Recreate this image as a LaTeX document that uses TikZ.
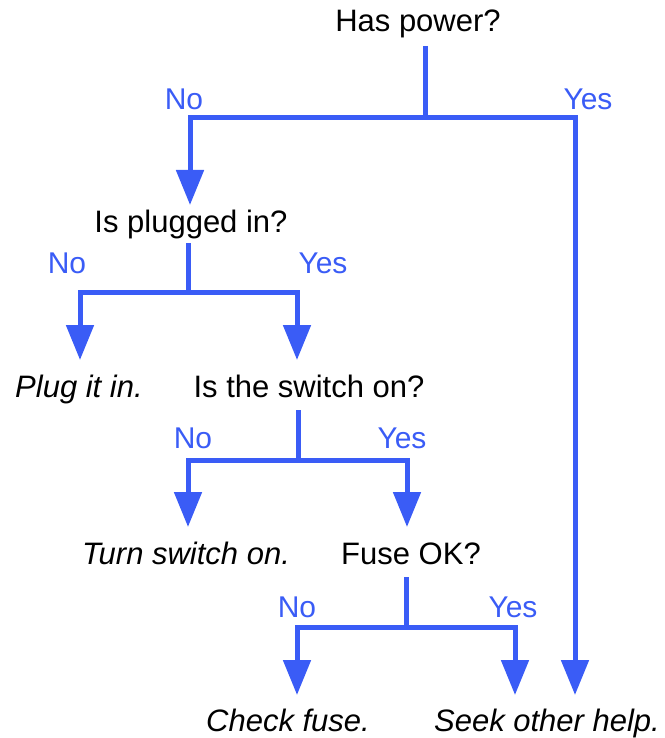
\documentclass[tikz,border=0pt]{standalone}
\usepackage{fontspec}
\setmainfont{Liberation Sans}
\usetikzlibrary{arrows.meta}
\definecolor{flowblue}{RGB}{58,92,246}
\tikzset{
  q/.style={anchor=base, inner sep=0pt, text=black, font=\fontsize{31}{36}\selectfont},
  ans/.style={anchor=base, inner sep=0pt, text=black, font=\fontsize{31}{36}\selectfont\itshape},
  lbl/.style={anchor=base, inner sep=0pt, text=flowblue, font=\fontsize{30}{36}\selectfont},
  conn/.style={draw=flowblue, line width=5pt, line cap=butt, line join=miter},
  arr/.style={conn, -{Triangle[width=27pt,length=35pt]}}
}
\begin{document}
\begin{tikzpicture}[x=1pt,y=-1pt]
\useasboundingbox (0,0) rectangle (664,738);
% texts
\node[q] (hp) at (418,32) {Has power?};
\node[q] (pl) at (191,232) {Is plugged in?};
\node[ans] (pin) at (79,397) {Plug it in.};
\node[q] (sw) at (309,397) {Is the switch on?};
\node[ans] (tso) at (186,564) {Turn switch on.};
\node[q] (fu) at (411,564) {Fuse OK?};
\node[ans] (cf) at (288,731) {Check fuse.};
\node[ans] (so) at (547,731) {Seek other help.};
% labels
\node[lbl] (n1) at (184,110) {No};
\node[lbl] (y1) at (588,110) {Yes};
\node[lbl] (n2) at (67,273) {No};
\node[lbl] (y2) at (323,273) {Yes};
\node[lbl] (n3) at (193,448) {No};
\node[lbl] (y3) at (402,448) {Yes};
\node[lbl] (n4) at (297,617) {No};
\node[lbl] (y4) at (513,617) {Yes};
% connector points
\coordinate (s1) at (425,46);  \coordinate (j1) at (425,118);
\coordinate (t1n) at (190,205); \coordinate (t1y) at (575,695);
\coordinate (s2) at (188,243); \coordinate (j2) at (188,292);
\coordinate (t2n) at (80,360); \coordinate (t2y) at (297,360);
\coordinate (s3) at (298,410); \coordinate (j3) at (298,460);
\coordinate (t3n) at (188,527); \coordinate (t3y) at (407,527);
\coordinate (s4) at (406,577); \coordinate (j4) at (406,627);
\coordinate (t4n) at (297,695); \coordinate (t4y) at (515,695);
% connectors
\draw[conn] (s1) -- (j1);
\draw[arr] (j1) -| (t1n);
\draw[arr] (j1) -| (t1y);
\draw[conn] (s2) -- (j2);
\draw[arr] (j2) -| (t2n);
\draw[arr] (j2) -| (t2y);
\draw[conn] (s3) -- (j3);
\draw[arr] (j3) -| (t3n);
\draw[arr] (j3) -| (t3y);
\draw[conn] (s4) -- (j4);
\draw[arr] (j4) -| (t4n);
\draw[arr] (j4) -| (t4y);
\end{tikzpicture}
\end{document}
